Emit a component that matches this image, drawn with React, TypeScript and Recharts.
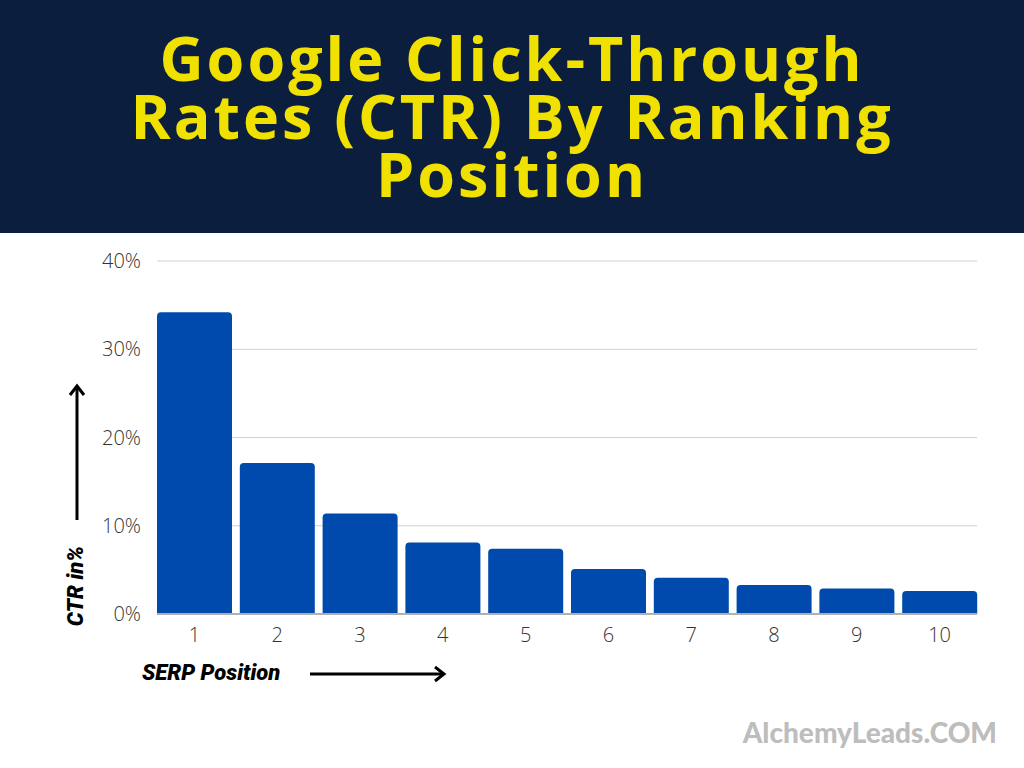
import { BarChart, Bar, XAxis, YAxis, CartesianGrid } from "recharts";

const positions = ["1", "2", "3", "4", "5", "6", "7", "8", "9", "10"];
const ctrValues = [34.2, 17.1, 11.4, 8.1, 7.4, 5.1, 4.1, 3.3, 2.9, 2.6];
const yTicks = [0, 10, 20, 30, 40];
const titleLines = ["Google Click-Through", "Rates (CTR) By Ranking", "Position"];

const chartData = positions.map((pos, i) => ({ pos, ctr: ctrValues[i] }));

const tickFont = {
  fill: "#333333",
  fontSize: 20,
  fontFamily: "'Open Sans', sans-serif",
  fontWeight: 300,
};

export default function App() {
  return (
    <div
      style={{
        position: "fixed",
        left: 0,
        top: 0,
        width: 1024,
        height: 768,
        background: "#ffffff",
        overflow: "hidden",
      }}
    >
      {/* header band */}
      <div
        style={{
          position: "absolute",
          left: 0,
          top: 0,
          width: 1024,
          height: 233,
          background: "#0b1e3d",
        }}
      >
        <div
          style={{
            position: "absolute",
            left: 0,
            top: 29,
            width: 1024,
            textAlign: "center",
            color: "#f0e100",
            fontFamily: "'Open Sans', sans-serif",
            fontWeight: 700,
            fontSize: 61,
            lineHeight: "58px",
            letterSpacing: 3,
          }}
        >
          {titleLines.map((line) => (
            <div key={line}>{line}</div>
          ))}
        </div>
      </div>

      <div style={{ position: "absolute", left: 0, top: 0 }}>
        <BarChart
          width={1024}
          height={768}
          data={chartData}
          margin={{ top: 261, right: 47, bottom: 114, left: 97 }}
          barCategoryGap={4}
        >
          <CartesianGrid vertical={false} stroke="#d0d0d0" />
          <XAxis
            dataKey="pos"
            height={40}
            padding={{ left: -4, right: -4 }}
            tickLine={false}
            tickSize={0}
            tickMargin={14}
            axisLine={{ stroke: "#b0b0b0", strokeWidth: 2 }}
            tick={tickFont}
          />
          <YAxis
            width={60}
            domain={[0, 40]}
            ticks={yTicks}
            axisLine={false}
            tickLine={false}
            tickSize={0}
            tickMargin={16}
            tickFormatter={(v: number) => `${v}%`}
            tick={tickFont}
          />
          <Bar dataKey="ctr" fill="#004aad" radius={[4, 4, 0, 0]} isAnimationActive={false} />
        </BarChart>
      </div>

      {/* axis titles and arrows */}
      <svg
        width={1024}
        height={768}
        style={{ position: "absolute", left: 0, top: 0, pointerEvents: "none" }}
      >
        <text
          x={0}
          y={0}
          transform="translate(83 586) rotate(-90)"
          textAnchor="middle"
          fontFamily="Roboto, sans-serif"
          fontWeight={900}
          fontStyle="italic"
          fontSize={22}
          fill="#000"
        >
          CTR in%
        </text>
        <line x1={77} y1={520} x2={77} y2={386} stroke="#000" strokeWidth={3} />
        <polyline points="70,395 77,386 84,395" fill="none" stroke="#000" strokeWidth={3} />

        <text
          x={142}
          y={680}
          fontFamily="Roboto, sans-serif"
          fontWeight={900}
          fontStyle="italic"
          fontSize={22}
          fill="#000"
        >
          SERP Position
        </text>
        <line x1={310} y1={674} x2={444} y2={674} stroke="#000" strokeWidth={3} />
        <polyline points="435,667 444,674 435,681" fill="none" stroke="#000" strokeWidth={3} />

        <text
          x={997}
          y={743}
          textAnchor="end"
          fontFamily="Lato, sans-serif"
          fontWeight={900}
          fontSize={28}
          fill="#bdbdbd"
        >
          AlchemyLeads.COM
        </text>
      </svg>
    </div>
  );
}
